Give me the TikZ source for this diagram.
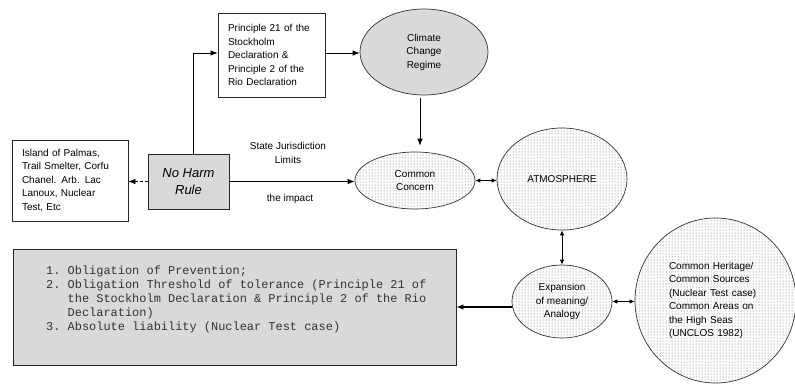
\documentclass[tikz,border=0pt]{standalone}
\usepackage{fontspec}
\setmainfont{Liberation Sans}
\newfontfamily\monofam{Liberation Mono}
\usetikzlibrary{arrows.meta,patterns,shapes.geometric,calc}
\definecolor{boxgray}{RGB}{217,217,217}
\begin{document}
\begin{tikzpicture}[x=1pt,y=-1pt,
  lbl/.style={font=\fontsize{10}{13.5}\selectfont},
  box/.style={draw=black!85, line width=0.8pt, inner sep=0pt, lbl},
  graybox/.style={box, fill=boxgray},
  oval/.style={ellipse, draw=black!80, line width=0.7pt, inner sep=0pt, lbl, align=center},
  dotoval/.style={oval, preaction={fill=white}, pattern=dots, pattern color=black!60},
  arr/.style={-{Latex[length=7pt,width=5.5pt]}, line width=0.8pt},
  darr/.style={{Latex[length=5pt,width=4.5pt]}-{Latex[length=5pt,width=4.5pt]}, line width=0.8pt},
]
\fill[white] (0,0) rectangle (795,383);
\useasboundingbox (0,0) rectangle (795,383);

\node[box, minimum width=107, minimum height=84, text width=87, align=left] (prin) at (271.5,55)
  {Principle 21 of the\\Stockholm\\Declaration \&\\Principle 2 of the\\Rio Declaration};
\node[oval, fill=boxgray, minimum width=128, minimum height=86] (clim) at (424,52)
  {Climate\\Change\\Regime};
\node[graybox, minimum width=81, minimum height=55, font=\fontsize{13}{17}\selectfont\itshape, align=center] (nh) at (188.5,181.5)
  {No Harm\\Rule};
\node[box, minimum width=116, minimum height=81, text width=96, align=left] (isl) at (70,180.5)
  {Island of Palmas,\\Trail Smelter, Corfu\\Chanel. Arb. Lac\\Lanoux, Nuclear\\Test, Etc};
\node[dotoval, minimum width=120, minimum height=57] (cc) at (415,180.5) {Common\\Concern};
\node[dotoval, minimum width=130, minimum height=102] (atm) at (562,179) {ATMOSPHERE};
\node[dotoval, minimum width=100, minimum height=73] (exp) at (562,301.5) {Expansion\\of meaning/\\Analogy};
\node[dotoval, minimum width=161, minimum height=165, text width=93, align=left] (her) at (715.5,300.5)
  {Common Heritage/\\Common Sources\\(Nuclear Test case)\\Common Areas on\\the High Seas\\(UNCLOS 1982)};

\node[graybox, minimum width=443, minimum height=116] (obl) at (234.5,307) {};
\node[anchor=north west, inner sep=0pt, font=\monofam\fontsize{11.95}{14}\selectfont, text=black!80] (obltxt) at (46,264)
  {\begin{tabular}{@{}l@{\ }l@{}}
   1. & Obligation of Prevention;\\
   2. & Obligation Threshold of tolerance (Principle 21 of\\
      & the Stockholm Declaration \& Principle 2 of the Rio\\
      & Declaration)\\
   3. & Absolute liability (Nuclear Test case)
   \end{tabular}};

\node[lbl, align=center] (sjl) at (288,153) {State Jurisdiction\\Limits};
\node[lbl] (imp) at (290,199) {the impact};

\draw[arr, dash pattern=on 3pt off 2pt] (nh.west) -- (nh.west -| isl.east);
\draw[arr] ([xshift=4.5pt]nh.north) |- ([yshift=2pt]prin.west);
\draw[arr] ([yshift=2pt]prin.east) -- ([yshift=2pt]prin.east -| clim.west);
\draw[arr, shorten >=6pt, shorten <=3pt] ([xshift=-4pt]clim.south) -- ([xshift=-4pt]clim.south |- cc.north);
\draw[arr] (nh.east) -- (nh.east -| cc.west);
\draw[darr] (cc.east) -- (cc.east -| atm.west);
\draw[darr] (atm.south) -- (exp.north);
\draw[darr] (exp.east) -- (exp.east -| her.west);
\draw[arr, line width=1.3pt] (obl.east -| exp.west) -- (obl.east);
\end{tikzpicture}
\end{document}
